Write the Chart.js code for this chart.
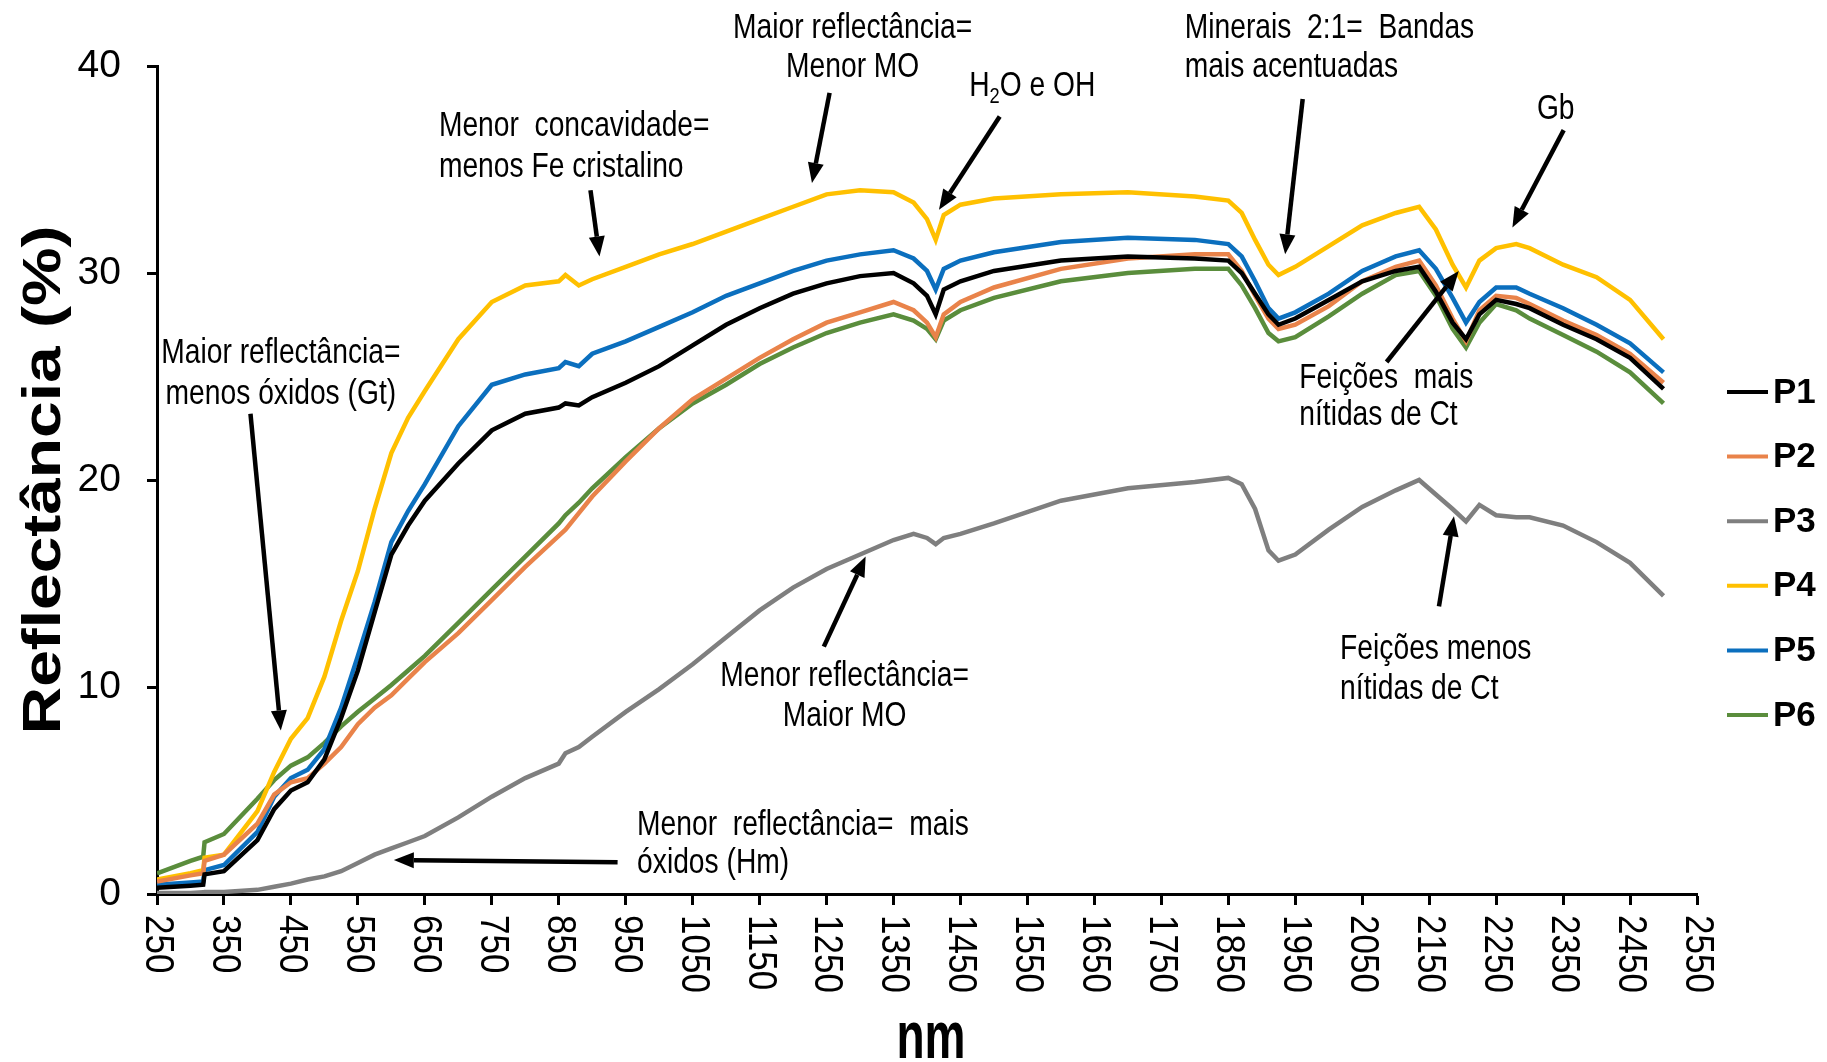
<!DOCTYPE html>
<html>
<head>
<meta charset="utf-8">
<script src="https://cdn.jsdelivr.net/npm/chart.js@4.4.1/dist/chart.umd.min.js"></script>
<style>
  html, body { margin: 0; padding: 0; background: #fff; }
  #grafico { position: relative; width: 1827px; height: 1062px; }
</style>
</head>
<body>
<div id="grafico"><canvas id="espectros"></canvas></div>
<script>
//comprimentos de onda (nm) em que as curvas foram lidas
const comprimentos = [250, 300, 319, 321, 350, 400, 425, 450, 475, 500, 525, 550, 575, 600, 625, 650, 700, 750, 800, 850,
  860, 880, 900, 950, 1000, 1050, 1100, 1150, 1200, 1250, 1300, 1350, 1380, 1400, 1413, 1425, 1450, 1500, 1600, 1700,
  1800, 1850, 1870, 1890, 1910, 1925, 1950, 2000, 2050, 2100, 2135, 2160, 2185, 2205, 2225, 2250, 2280, 2300, 2350, 2400,
  2450, 2500];

//reflectancia (%) de cada perfil
const p1 = [0.3, 0.4, 0.45, 0.95, 1.1, 2.6, 4.1, 5.0, 5.4, 6.5, 8.5, 10.8, 13.6, 16.4, 17.8, 19.0, 20.8, 22.4, 23.2, 23.5,
  23.7, 23.6, 24.0, 24.7, 25.5, 26.5, 27.5, 28.3, 29.0, 29.5, 29.85, 30.0, 29.5, 28.9, 28.0, 29.2, 29.6, 30.1, 30.6, 30.8,
  30.7, 30.6, 30.0, 29.0, 28.0, 27.5, 27.8, 28.7, 29.6, 30.1, 30.3, 29.1, 27.6, 26.8, 28.0, 28.7, 28.5, 28.3, 27.5, 26.8,
  25.9, 24.4];
const p2 = [0.6, 0.9, 1.0, 1.6, 1.9, 3.4, 4.8, 5.4, 5.6, 6.3, 7.1, 8.2, 9.0, 9.6, 10.4, 11.2, 12.6, 14.2, 15.8, 17.3,
  17.6, 18.4, 19.2, 20.9, 22.5, 23.9, 24.9, 25.9, 26.8, 27.6, 28.1, 28.6, 28.2, 27.6, 26.9, 28.0, 28.6, 29.3, 30.2, 30.7,
  30.9, 30.9, 30.1, 28.9, 27.8, 27.3, 27.5, 28.4, 29.6, 30.3, 30.6, 29.4, 27.8, 26.7, 28.2, 28.9, 28.8, 28.5, 27.7, 27.0,
  26.1, 24.7];
const p3 = [0.05, 0.05, 0.08, 0.1, 0.1, 0.2, 0.35, 0.5, 0.7, 0.85, 1.1, 1.5, 1.9, 2.2, 2.5, 2.8, 3.7, 4.7, 5.6, 6.3,
  6.8, 7.1, 7.6, 8.8, 9.9, 11.1, 12.4, 13.7, 14.8, 15.7, 16.4, 17.1, 17.4, 17.2, 16.9, 17.2, 17.4, 17.9, 19.0, 19.6,
  19.9, 20.1, 19.8, 18.6, 16.6, 16.1, 16.4, 17.6, 18.7, 19.5, 20.0, 19.3, 18.6, 18.0, 18.8, 18.3, 18.2, 18.2, 17.8, 17.0,
  16.0, 14.4];
const p4 = [0.7, 1.0, 1.15, 1.75, 1.9, 4.0, 5.9, 7.5, 8.5, 10.5, 13.2, 15.6, 18.6, 21.3, 23.0, 24.3, 26.8, 28.6, 29.4, 29.6,
  29.9, 29.4, 29.7, 30.3, 30.9, 31.4, 32.0, 32.6, 33.2, 33.8, 34.0, 33.9, 33.4, 32.6, 31.6, 32.8, 33.3, 33.6, 33.8, 33.9,
  33.7, 33.5, 32.9, 31.6, 30.4, 29.9, 30.3, 31.3, 32.3, 32.9, 33.2, 32.1, 30.4, 29.3, 30.6, 31.2, 31.4, 31.2, 30.4, 29.8,
  28.7, 26.8];
const p5 = [0.45, 0.55, 0.6, 1.15, 1.4, 3.0, 4.7, 5.6, 6.0, 7.0, 9.0, 11.5, 14.1, 17.0, 18.5, 19.8, 22.6, 24.6, 25.1, 25.4,
  25.7, 25.5, 26.1, 26.7, 27.4, 28.1, 28.9, 29.5, 30.1, 30.6, 30.9, 31.1, 30.7, 30.1, 29.2, 30.2, 30.6, 31.0, 31.5, 31.7,
  31.6, 31.4, 30.8, 29.6, 28.3, 27.8, 28.1, 29.0, 30.1, 30.8, 31.1, 30.2, 28.8, 27.6, 28.6, 29.3, 29.3, 29.0, 28.3, 27.5,
  26.6, 25.2];
const p6 = [1.0, 1.6, 1.8, 2.5, 2.9, 4.6, 5.5, 6.2, 6.6, 7.3, 8.1, 8.8, 9.45, 10.1, 10.8, 11.5, 13.1, 14.7, 16.3, 17.9,
  18.3, 18.9, 19.6, 21.1, 22.5, 23.7, 24.6, 25.6, 26.4, 27.1, 27.6, 28.0, 27.7, 27.3, 26.8, 27.7, 28.2, 28.8, 29.6, 30.0,
  30.2, 30.2, 29.4, 28.3, 27.1, 26.7, 26.9, 27.9, 29.0, 29.9, 30.1, 28.9, 27.3, 26.4, 27.6, 28.5, 28.2, 27.8, 27.0, 26.2,
  25.2, 23.7];

const perfis = ['P1', 'P2', 'P3', 'P4', 'P5', 'P6'];
const series = [p1, p2, p3, p4, p5, p6];
const cores = ['#000000', '#E9834A', '#7F7F7F', '#FFC000', '#0B6FBE', '#5A8D3C'];

//marcas do eixo x
const ticksX = [250, 350, 450, 550, 650, 750, 850, 950, 1050, 1150, 1250, 1350, 1450, 1550, 1650, 1750, 1850, 1950,
  2050, 2150, 2250, 2350, 2450, 2550];
const ticksY = [0, 10, 20, 30, 40];

//textos explicativos: posicao em (nm, %) e seta (origem -> ponta)
const anotacoes = [
  { linhas: ['Maior reflectância=', 'menos óxidos (Gt)'], x: 435, y: 26.1, alinhar: 'center', passo: 41,
    seta: [[389.6, 23.2], [434.9, 7.9]] },
  { linhas: ['Menor  concavidade=', 'menos Fe cristalino'], x: 671, y: 37.1, alinhar: 'left', passo: 41,
    seta: [[897.4, 34.0], [910.9, 30.8]] },
  { linhas: ['Maior reflectância=', 'Menor MO'], x: 1289, y: 41.8, alinhar: 'center', passo: 38.5,
    seta: [[1254.5, 38.7], [1228.2, 34.35]] },
  { linhas: ['H2O e OH'], x: 1463, y: 39.0, alinhar: 'left', passo: 38,
    seta: [[1508.6, 37.56], [1417.9, 33.06]] },
  { linhas: ['Minerais  2:1=  Bandas', 'mais acentuadas'], x: 1785, y: 41.8, alinhar: 'left', passo: 38.5,
    seta: [[1961.1, 38.4], [1934.9, 30.9]] },
  { linhas: ['Gb'], x: 2339, y: 37.9, alinhar: 'center', passo: 38,
    seta: [[2350.9, 36.9], [2274.3, 32.2]] },
  { linhas: ['Feições  mais', 'nítidas de Ct'], x: 1956, y: 24.9, alinhar: 'left', passo: 37,
    seta: [[2086.4, 25.7], [2194.2, 30.1]] },
  { linhas: ['Menor reflectância=', 'Maior MO'], x: 1277, y: 10.5, alinhar: 'center', passo: 40,
    seta: [[1245.9, 11.95], [1308.4, 16.3]] },
  { linhas: ['Feições menos', 'nítidas de Ct'], x: 2017, y: 11.8, alinhar: 'left', passo: 40,
    seta: [[2164.6, 13.9], [2187.0, 18.25]] },
  { linhas: ['Menor  reflectância=  mais', 'óxidos (Hm)'], x: 967, y: 3.33, alinhar: 'left', passo: 38.5,
    seta: [[937.9, 1.53], [603.7, 1.64]] }
];

const fonte = '"Liberation Sans", Arial, sans-serif';

//seta preta com ponta triangular
function desenharSeta(ctx, x0, y0, x1, y1) {
  const ang = Math.atan2(y1 - y0, x1 - x0);
  const comp = 20, larg = 8;
  const bx = x1 - comp * Math.cos(ang);
  const by = y1 - comp * Math.sin(ang);
  ctx.strokeStyle = '#000';
  ctx.fillStyle = '#000';
  ctx.lineWidth = 4.5;
  ctx.beginPath();
  ctx.moveTo(x0, y0);
  ctx.lineTo(bx, by);
  ctx.stroke();
  ctx.beginPath();
  ctx.moveTo(x1, y1);
  ctx.lineTo(bx + larg * Math.sin(ang), by - larg * Math.cos(ang));
  ctx.lineTo(bx - larg * Math.sin(ang), by + larg * Math.cos(ang));
  ctx.closePath();
  ctx.fill();
}

//texto estreito (fonte comprimida na horizontal)
function textoEstreito(ctx, txt, x, y, alinhar) {
  const sx = 0.83;
  ctx.save();
  ctx.translate(x, y);
  ctx.scale(sx, 1.04);
  ctx.font = '34px ' + fonte;
  ctx.textAlign = alinhar;
  ctx.textBaseline = 'middle';
  if (txt.indexOf('H2O') === 0) {
    //H2O com o 2 subscrito
    const resto = 'O e OH';
    const wH = ctx.measureText('H').width;
    ctx.textAlign = 'left';
    ctx.fillText('H', 0, 0);
    ctx.font = '22px ' + fonte;
    const w2 = ctx.measureText('2').width;
    ctx.fillText('2', wH, 10);
    ctx.font = '34px ' + fonte;
    ctx.fillText(resto, wH + w2, 0);
  } else {
    ctx.fillText(txt, 0, 0);
  }
  ctx.restore();
}

//titulos, rotulos do eixo x, legenda e anotacoes
const desenhoExtra = {
  id: 'desenhoExtra',
  afterDraw(chart) {
    const ctx = chart.ctx;
    const escX = chart.scales.x;
    const escY = chart.scales.y;
    const area = chart.chartArea;

    ctx.save();
    ctx.fillStyle = '#000';

    //rotulos do eixo x girados (leitura de cima para baixo)
    ctx.font = '35px ' + fonte;
    ctx.textAlign = 'left';
    ctx.textBaseline = 'middle';
    ticksX.forEach(v => {
      ctx.save();
      ctx.translate(escX.getPixelForValue(v), area.bottom + 21);
      ctx.rotate(Math.PI / 2);
      ctx.scale(1, 1.15);
      ctx.fillText(String(v), 0, 0);
      ctx.restore();
    });

    //titulo do eixo y
    ctx.save();
    ctx.translate(60, (area.top + area.bottom) / 2);
    ctx.rotate(-Math.PI / 2);
    ctx.scale(1.22, 1);
    ctx.font = 'bold 54px ' + fonte;
    ctx.textAlign = 'center';
    ctx.textBaseline = 'alphabetic';
    ctx.fillText('Reflectância (%)', 0, 0);
    ctx.restore();

    //titulo do eixo x
    ctx.save();
    ctx.translate((area.left + area.right) / 2 + 4, 1058);
    ctx.scale(0.72, 1.05);
    ctx.font = 'bold 64px ' + fonte;
    ctx.textAlign = 'center';
    ctx.textBaseline = 'alphabetic';
    ctx.fillText('nm', 0, 0);
    ctx.restore();

    //legenda
    chart.data.datasets.forEach((ds, i) => {
      const y = 392 + i * 64.6;
      ctx.strokeStyle = ds.borderColor;
      ctx.lineWidth = 4;
      ctx.beginPath();
      ctx.moveTo(area.right + 30, y);
      ctx.lineTo(area.right + 71, y);
      ctx.stroke();
      ctx.font = 'bold 35px ' + fonte;
      ctx.textAlign = 'left';
      ctx.textBaseline = 'middle';
      ctx.fillStyle = '#000';
      ctx.fillText(ds.label, area.right + 76, y + 1);
    });

    //anotacoes com setas
    anotacoes.forEach(a => {
      const tx = escX.getPixelForValue(a.x);
      const ty = escY.getPixelForValue(a.y);
      a.linhas.forEach((linha, k) => {
        textoEstreito(ctx, linha, tx, ty + k * a.passo, a.alinhar);
      });
      const ini = a.seta[0], fim = a.seta[1];
      desenharSeta(ctx,
        escX.getPixelForValue(ini[0]), escY.getPixelForValue(ini[1]),
        escX.getPixelForValue(fim[0]), escY.getPixelForValue(fim[1]));
    });

    ctx.restore();
  }
};

function montarDatasets() {
  return series.map((serie, i) => ({
    label: perfis[i],
    data: comprimentos.map((x, k) => ({ x: x, y: serie[k] })),
    borderColor: cores[i],
    backgroundColor: cores[i],
    borderWidth: 4.5,
    pointRadius: 0,
    tension: 0,
    fill: false
  }));
}

const ctx = document.getElementById('espectros').getContext('2d');

new Chart(ctx, {
  type: 'line',
  data: { datasets: montarDatasets() },
  options: {
    responsive: true,
    maintainAspectRatio: false,
    devicePixelRatio: 1,
    animation: false,
    events: [],
    layout: { padding: { top: 66, right: 130, bottom: 0, left: 0 } },
    plugins: {
      legend: { display: false },
      tooltip: { enabled: false }
    },
    scales: {
      x: {
        type: 'linear',
        min: 250,
        max: 2550,
        afterBuildTicks: (scale) => { scale.ticks = ticksX.map(v => ({ value: v })); },
        afterFit: (scale) => { scale.height = 168; },
        ticks: { display: false },
        grid: { drawOnChartArea: false, drawTicks: true, tickLength: 11, tickWidth: 3, tickColor: '#000' },
        border: { display: true, color: '#000', width: 3 }
      },
      y: {
        min: 0,
        max: 40,
        afterBuildTicks: (scale) => { scale.ticks = ticksY.map(v => ({ value: v })); },
        afterFit: (scale) => { scale.width = 157; },
        ticks: { color: '#000', padding: 26, font: { family: fonte, size: 39 } },
        grid: { drawOnChartArea: false, drawTicks: true, tickLength: 10, tickWidth: 3, tickColor: '#000' },
        border: { display: true, color: '#000', width: 3 }
      }
    }
  },
  plugins: [desenhoExtra]
});
</script>
</body>
</html>
